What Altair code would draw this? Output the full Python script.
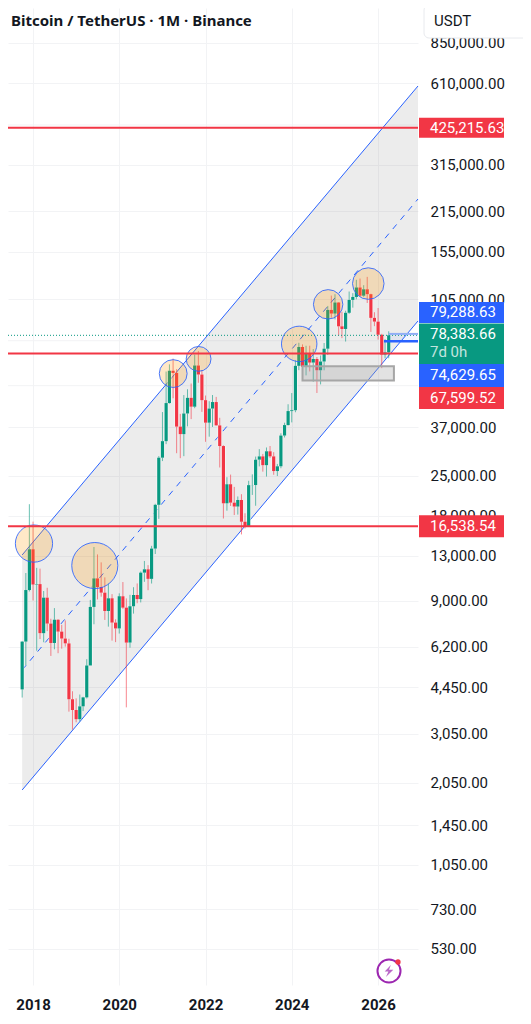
import altair as alt
import pandas as pd

# ---- monthly candles, BTC/USDT, first candle October 2017
opens = [4378,6463,9837,13715,10285,10325,6922,9246,7485,6391,7725,7011,6626,6369,4041,3701,3434,3814,4102,5320,8573,10817,10085,9630,8293,9199,7547,7195,9351,8523,6412,8620,9448,9138,11335,11649,10776,13791,19700,28923,33092,45134,58739,57697,37254,35045,41461,47100,43820,61300,56950,46216,38466,43160,45510,37630,31801,19942,23296,20048,19423,20490,17165,16541,23125,23141,28465,29233,27210,30472,29232,25940,26962,34639,37723,42283,42580,61130,71280,60672,67540,62772,64628,58974,63327,70292,96408,93576,102429,84349,82550,94172,104591,107146,115764,108246,114048,109608,90360,87648,78741,66970,68200]
highs = [6487,11300,19798,17176,11786,11710,9759,10020,7786,8491,7750,7410,7680,6615,4312,4069,4198,4120,5600,9074,13970,13147,12325,10905,10370,9513,7750,9578,10500,9188,9460,10067,10380,11444,12468,12050,14100,19863,29300,41950,58352,61844,64854,59500,41330,48168,50500,52920,67000,69000,59053,47990,45821,48189,47444,40023,31982,24668,25200,22799,21085,21480,18387,23960,25250,29184,31000,29820,31431,31804,30244,27483,35280,38450,44700,48969,64000,73777,72797,71979,71997,70079,65659,66498,73620,99588,108353,109588,102783,95000,95758,111980,110530,123218,124474,117900,126199,110000,94600,97900,79360,76000,81000]
lows = [4097,5325,9722,9035,6000,6600,6430,7040,5750,6070,5880,6100,6205,3652,3156,3349,3373,3670,4067,5350,7444,9111,9320,7710,7300,6515,6435,6901,8445,3782,6150,8117,8833,8893,10518,9825,10374,13195,17572,28130,32296,44950,46930,30000,28805,29278,37332,39600,43283,53256,42000,32917,34322,37155,37578,26700,17622,18781,19520,18125,18190,15476,16256,16499,21351,19549,26942,25811,24800,28861,25166,24901,26538,34097,37615,38555,41884,59005,59191,56552,58402,53717,49000,52550,58946,66835,90500,89256,78258,76606,74508,93377,98200,105100,107350,107270,102000,80600,84450,75700,60000,65000,65000]
closes = [6463,9838,13716,10285,10326,6923,9246,7485,6391,7725,7011,6626,6371,4041,3702,3434,3813,4103,5320,8574,10817,10085,9630,8293,9199,7546,7195,9353,8523,6410,8620,9448,9138,11335,11649,10776,13791,19700,28923,33092,45135,58740,57694,37253,35045,41461,47100,43824,61299,56950,46216,38466,43160,45510,37630,31801,19942,23293,20050,19423,20490,17164,16542,23125,23141,28465,29233,27210,30472,29232,25940,26962,34639,37723,42283,42580,61130,71280,60672,67540,62772,64628,58974,63327,70292,96408,93576,102429,84349,82550,94172,104591,107146,115764,108246,114048,109608,90360,87648,78741,66970,68200,78383.66]
first_month = "2017-10-01"

# ---- price levels and tick labels
red_levels = [425215.63, 67599.52, 16538.54]
last_price = 78383.66
blue_high, blue_low = 79288.63, 74629.65
price_ticks = [850000,610000,315000,215000,155000,105000,37000,25000,18000,13000,9000,6200,4450,3050,2050,1450,1050,730,530]
hidden_grid = [435000, 75000, 52000]   # gridlines whose labels sit behind the price badges
year_ticks = ["2018-01-01","2020-01-01","2022-01-01","2024-01-01","2026-01-01"]

# ---- regression channel: endpoints
chan_dates = ["2017-10-01", "2026-12-05"]
chan_upper = [13092, 597700]
chan_mid = [5129, 238000]
chan_lower = [1929, 88100]

# ---- circled areas
circle_dates = ["2018-01-09","2019-06-08","2021-04-02","2021-11-03","2024-03-04","2024-11-04","2025-10-10"]
circle_prices = [14365,12010,57390,64690,73090,100900,119500]
circle_radii = [21,26,15.7,14,20,16.6,17.8]

# ---- demand zone
zone = dict(start="2024-04-01", end="2026-05-15", top=60890, bottom=54200)

# ---- right-hand labels: text, price to stand against, colour, height of box
RED, GREEN, BLUE = "#F23645", "#089981", "#2962FF"
badges = [
    ("425,215.63", 425215.63, RED, 20),
    ("79,288.63", 94406, BLUE, 21),
    ("74,629.65", 56500, BLUE, 23),
    ("67,599.52", 47050, RED, 22),
    ("16,538.54", 16538.54, RED, 22),
]

W, H = 410, 977
GRID = "#F2F3F5"
x_scale = alt.Scale(type="utc", domain=["2017-06-03", "2026-12-05"])
y_scale = alt.Scale(type="log", domain=[393.8, 1128400], nice=False)
x_axis = alt.Axis(values=year_ticks, format="%Y", grid=True, gridColor=GRID, domain=False, ticks=False,
                  labelFont="Roboto", labelFontSize=15, labelFontWeight="bold", labelColor="#131722",
                  labelPadding=12, labelFlush=False, labelOverlap=False, title=None)
y_axis = alt.Axis(orient="right", values=price_ticks, format=",.2f", grid=True, gridColor=GRID, domain=False,
                  ticks=False, labelFont="Roboto", labelFontSize=15, labelColor="#131722", labelPadding=12,
                  labelFlush=False, labelOverlap=False, title=None)

df = pd.DataFrame({"date": pd.date_range(first_month, periods=len(opens), freq="MS").strftime("%Y-%m-%d"),
                   "o": opens, "h": highs, "l": lows, "c": closes})
df["dir"] = ["up" if c >= o else "down" for o, c in zip(opens, closes)]
color = alt.Color("dir:N", scale=alt.Scale(domain=["up", "down"], range=[GREEN, RED]), legend=None)

X = lambda f="date": alt.X(f"{f}:T", scale=x_scale, axis=x_axis)
Y = lambda f: alt.Y(f"{f}:Q", scale=y_scale, axis=y_axis)

# extra gridlines
extra_grid = alt.Chart(pd.DataFrame({"p": hidden_grid})).mark_rule(color=GRID, strokeWidth=1).encode(
    x=alt.value(0), x2=alt.value(W), y=Y("p"))

# channel
chan = pd.DataFrame({"date": chan_dates, "up": chan_upper, "mid": chan_mid, "lo": chan_lower})
band = alt.Chart(chan).mark_area(color="#808080", opacity=0.15).encode(x=X(), y=Y("up"), y2="lo:Q")
line_up = alt.Chart(chan).mark_line(color=BLUE, strokeWidth=1).encode(x=X(), y=Y("up"))
line_lo = alt.Chart(chan).mark_line(color=BLUE, strokeWidth=1).encode(x=X(), y=Y("lo"))
line_mid = alt.Chart(chan).mark_line(color=BLUE, strokeWidth=1, strokeDash=[6, 6]).encode(x=X(), y=Y("mid"))

# candles
wick = alt.Chart(df).mark_rule(strokeWidth=1, opacity=0.6).encode(x=X(), y=Y("l"), y2="h:Q", color=color)
halo = alt.Chart(df).mark_rule(strokeWidth=4.4, color="white", opacity=0.7).encode(x=X(), y=Y("o"), y2="c:Q")
body = alt.Chart(df).mark_rule(strokeWidth=3.2).encode(x=X(), y=Y("o"), y2="c:Q", color=color)

# demand zone
zone_df = pd.DataFrame([zone])
zone_rect = alt.Chart(zone_df).mark_rect(fill="#9E9E9E", fillOpacity=0.3, stroke="#A6A6A6", strokeWidth=2).encode(
    x=X("start"), x2="end:T", y=Y("top"), y2="bottom:Q")

# circles
rings = []
for d, p, r in zip(circle_dates, circle_prices, circle_radii):
    rings.append(alt.Chart(pd.DataFrame({"date": [d], "p": [p]})).mark_point(
        filled=True, shape="circle", size=3.14159 * r * r, fill="#FF9800", fillOpacity=0.22,
        stroke=BLUE, strokeWidth=1, strokeOpacity=0.85).encode(x=X(), y=Y("p")))

# horizontal levels
level_layers = []
for p in red_levels:
    level_layers.append(alt.Chart(pd.DataFrame({"p": [p]})).mark_rule(color=RED, strokeWidth=2).encode(
        x=alt.value(0), x2=alt.value(W), y=Y("p")))
dotted = alt.Chart(pd.DataFrame({"p": [last_price]})).mark_rule(color=GREEN, strokeWidth=1, strokeDash=[1, 2]).encode(
    x=alt.value(0), x2=alt.value(W), y=Y("p"))

# position box on the last candle
pos_df = pd.DataFrame({"start": ["2026-04-01"], "end": ["2026-12-05"], "top": [blue_high], "bottom": [blue_low]})
pos_fill = alt.Chart(pos_df).mark_rect(fill=BLUE, fillOpacity=0.06).encode(x=X("start"), x2="end:T", y=Y("top"), y2="bottom:Q")
pos_top = alt.Chart(pos_df).mark_rule(color="#90AEF5", strokeWidth=2).encode(x=X("start"), x2="end:T", y=Y("top"))
pos_low = alt.Chart(pd.DataFrame({"start": ["2026-02-20"], "end": ["2026-12-05"], "bottom": [blue_low]})).mark_rule(
    color=BLUE, strokeWidth=2.5).encode(x=X("start"), x2="end:T", y=Y("bottom"))

# badges
def badge(text, price, col, h):
    d = pd.DataFrame({"p": [price], "t": [text]})
    return (alt.Chart(d).mark_rule(color=col, strokeWidth=h).encode(x=alt.value(411), x2=alt.value(496), y=Y("p"))
            + alt.Chart(d).mark_text(color="white", font="Roboto", fontSize=15, align="left", baseline="middle").encode(
                x=alt.value(422), y=Y("p"), text="t:N"))
badge_layers = [badge(*b) for b in badges]
green_box = alt.Chart(pd.DataFrame({"p": [73050]})).mark_rule(color=GREEN, strokeWidth=41).encode(
    x=alt.value(411), x2=alt.value(496), y=Y("p"))
green_t1 = alt.Chart(pd.DataFrame({"p": [78930], "t": ["78,383.66"]})).mark_text(
    color="white", font="Roboto", fontSize=15, align="left", baseline="middle").encode(x=alt.value(422), y=Y("p"), text="t:N")
green_t2 = alt.Chart(pd.DataFrame({"p": [68440], "t": ["7d 0h"]})).mark_text(
    color="white", opacity=0.75, font="Roboto", fontSize=15, align="left", baseline="middle").encode(x=alt.value(422), y=Y("p"), text="t:N")

# header
one = pd.DataFrame({"t": ["Bitcoin / TetherUS · 1M · Binance"]})
title = alt.Chart(one).mark_text(font="Noto Sans", fontSize=15, fontWeight="bold", color="#131722", align="left", baseline="middle").encode(
    x=alt.value(3), y=alt.value(13), text="t:N")
usdt_box = alt.Chart(one).mark_rect(fill="white", stroke="#E8EAEE", strokeWidth=1, cornerRadius=5).encode(
    x=alt.value(416), x2=alt.value(530), y=alt.value(-3), y2=alt.value(30))
usdt = alt.Chart(pd.DataFrame({"t": ["USDT"]})).mark_text(font="Roboto", fontSize=15, color="#131722", align="left", baseline="middle").encode(
    x=alt.value(426), y=alt.value(13), text="t:N")

# lightning badge
icon_ring = alt.Chart(one).mark_point(shape="circle", size=3.14159 * 13 * 13, stroke="#9C27B0", strokeWidth=2, fill="white", fillOpacity=1).encode(
    x=alt.value(381), y=alt.value(963))
icon_bolt = alt.Chart(one).mark_point(
    shape="M0.3,-1 L-0.7,0.1 L-0.1,0.1 L-0.5,1 L0.7,-0.2 L0,-0.2 Z", filled=True, fill="#9C27B0", size=150, strokeWidth=0).encode(
    x=alt.value(381), y=alt.value(963))
icon_dot = alt.Chart(one).mark_point(shape="circle", filled=True, fill=RED, size=28, strokeWidth=0, opacity=1).encode(
    x=alt.value(390), y=alt.value(954))

chart = alt.layer(
    extra_grid, band, line_up, line_lo, line_mid, wick, halo, body, zone_rect, *rings, dotted,
    *level_layers, pos_fill, pos_top, pos_low, green_box, green_t1, green_t2, *badge_layers,
    usdt_box, usdt, title, icon_ring, icon_bolt, icon_dot,
).properties(
    width=W, height=H, padding={"left": 0, "top": 0, "right": 105, "bottom": 31},
    autosize=alt.AutoSizeParams(type="none"), background="white",
).configure_view(stroke=None)

chart.save("out.html", embed_options={"renderer": "svg", "actions": False})
